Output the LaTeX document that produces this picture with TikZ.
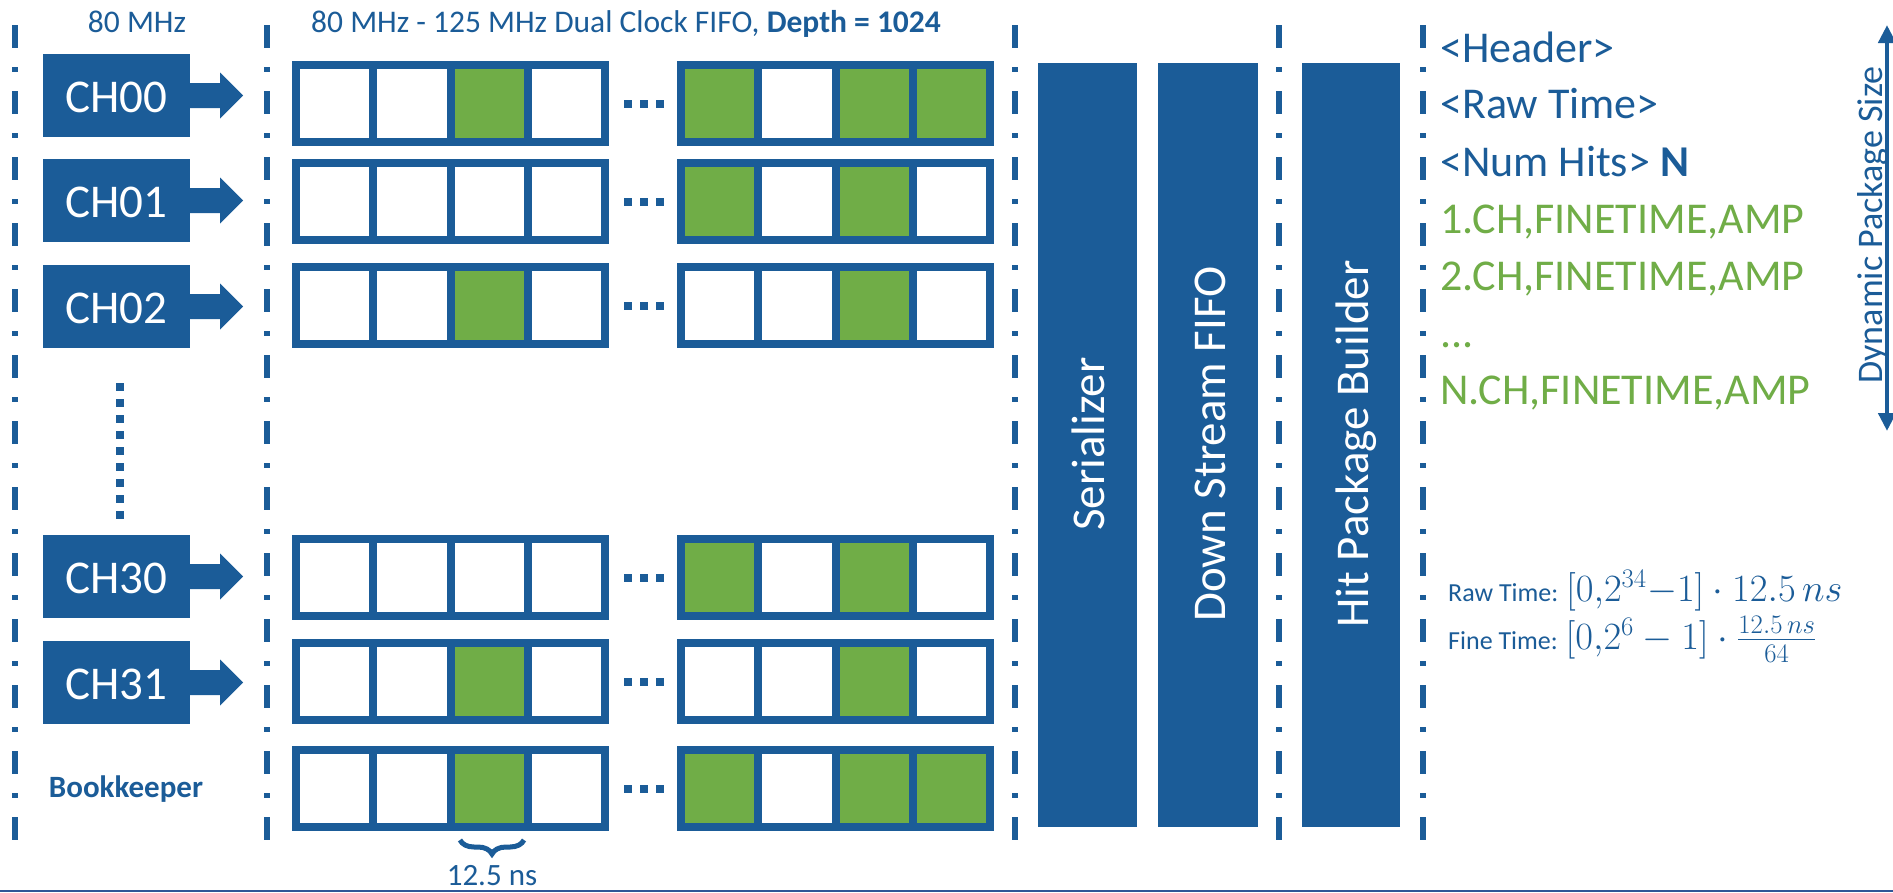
\documentclass[tikz,border=0pt]{standalone}
\usepackage{graphicx}
\usepackage{fontspec}
\setmainfont{Carlito}
\usetikzlibrary{arrows.meta,calc,decorations.pathreplacing}
\definecolor{bl}{RGB}{27,92,152}
\definecolor{gr}{RGB}{112,173,71}
\definecolor{bot}{RGB}{47,85,151}
\begin{document}
\begin{tikzpicture}[x=1pt,y=-1pt,
  sep/.style={draw=bl, line width=6pt, dash pattern=on 23pt off 19pt on 5pt off 19pt},
  chbox/.style={fill=bl, minimum width=147pt, minimum height=83pt, inner sep=0pt, text=white,
    font=\fontsize{47}{56}\selectfont, text height=33pt, text depth=0pt},
  vbox/.style={fill=bl, minimum height=764pt, inner sep=0pt},
  vlabel/.style={rotate=90, anchor=base, text=white, inner sep=0pt, font=\fontsize{47}{56}\selectfont},
  cellline/.style={draw=bl, line width=8pt},
  hdr/.style={text=bl, inner sep=0pt, font=\fontsize{31.5}{38}\selectfont},
  listb/.style={text=bl, inner sep=0pt, anchor=base west, font=\fontsize{44}{52}\selectfont},
  listg/.style={listb, text=gr},
  small/.style={text=bl, inner sep=0pt, anchor=base west, font=\fontsize{26}{31}\selectfont},
]
\useasboundingbox (0,0) rectangle (1893,892);
\fill[white] (0,0) rectangle (1893,892);

% separators
\foreach \x/\n in {15/a,267/b,1015/c,1279/d,1423/e} {
  \coordinate (s\n t) at (\x,25);
  \coordinate (s\n b) at (\x,841);
  \draw[sep] (s\n t) -- (s\n b);
}

% headers
\node[hdr, anchor=base] (h1) at (137,32) {80 MHz};
\node[hdr, anchor=base west] (h2) at (311,32) {80 MHz - 125 MHz Dual Clock FIFO, \textbf{Depth = 1024}};

% channel boxes and arrows
\foreach \n/\c [count=\i] in {CH00/95.5,CH01/200.5,CH02/306.5,CH30/576.5,CH31/682.5} {
  \node[chbox] (ch\i) at (116.5,\c) {\n};
  \fill[bl] ($(ch\i.east)+(0,-12.5)$) -- ++(30,0) -- ++(0,-10.5) -- ($(ch\i.east)+(53,0)$)
     -- ($(ch\i.east)+(30,23)$) -- ++(0,-10.5) -- ($(ch\i.east)+(0,12.5)$) -- cycle;
}
% vertical dots
\coordinate (vd1) at (120,383);
\coordinate (vd2) at (120,519);
\draw[bl, line width=8pt, dash pattern=on 8pt off 8pt] (vd1) -- (vd2);

\node[anchor=base, inner sep=0pt, text=bl, font=\bfseries\fontsize{31}{37}\selectfont] (bk) at (126,797) {Bookkeeper};

% FIFO green cells
\foreach \t/\gl in {61/{450.5,681,835.5,912.75},159/{681,835.5},263/{450.5,835.5},535/{681,835.5},639/{450.5,835.5},746/{450.5,681,835.5,912.75}} {
  \foreach \x in \gl { \fill[gr] (\x,\t+4) rectangle ++(77.25,77); }
}
% FIFO grids
\foreach \t in {61,159,263,535,639,746} {
  \foreach \g in {292,677} {
    \draw[cellline] (\g+4,\t+4) rectangle (\g+313,\t+81);
    \foreach \k in {1,2,3} { \draw[cellline] (\g+4+\k*77.25,\t+4) -- (\g+4+\k*77.25,\t+81); }
  }
  \foreach \d in {628,644,660} { \fill[bl] (\d-4,\t+38.5) rectangle (\d+4,\t+46.5); }
}

% brace
\coordinate (br1) at (524,840);
\coordinate (br2) at (460,840);
\draw[bl, line width=5pt, decorate, decoration={brace, amplitude=14pt}] (br1) -- (br2);
\node[anchor=base, inner sep=0pt, text=bl, font=\fontsize{31}{37}\selectfont] (ns) at (492,885) {12.5 ns};

% big boxes
\node[vbox, minimum width=99pt] (ser) at (1087.5,445) {};
\node[vbox, minimum width=100pt] (dsf) at (1208,445) {};
\node[vbox, minimum width=98pt] (hpb) at (1351,445) {};
\node[vlabel] (serl) at (1104.5,444) {Serializer};
\node[vlabel] (dsfl) at (1225,444) {Down Stream FIFO};
\node[vlabel] (hpbl) at (1368,444) {Hit Package Builder};

% package list
\node[listb] (l1) at (1440,62) {<Header>};
\node[listb] (l2) at (1440,118) {<Raw Time>};
\node[listb] (l3) at (1440,176) {<Num Hits> \textbf{N}};
\node[listg] (l4) at (1440,233) {1.CH,FINETIME,AMP};
\node[listg] (l5) at (1440,290) {2.CH,FINETIME,AMP};
\node[listg] (l6) at (1440,347) {...};
\node[listg] (l7) at (1440,404) {N.CH,FINETIME,AMP};

% dynamic size arrow
\coordinate (da1) at (1887,25);
\coordinate (da2) at (1887,431);
\draw[bl, line width=4.5pt, {Triangle[length=18pt,width=17pt]}-{Triangle[length=18pt,width=17pt]}] (da1) -- (da2);
\node[rotate=90, anchor=base, inner sep=0pt, text=bl, font=\fontsize{36}{43}\selectfont] (dps) at (1882,225) {Dynamic Package Size};

% formulas
\node[small] (raw) at (1448,601) {Raw Time: \scalebox{1.55}{$[0{,}2^{34}{-}1]\cdot 12.5\,ns$}};
\node[small] (fine) at (1448,649) {Fine Time: \scalebox{1.55}{$[0{,}2^{6}-1]\cdot\frac{12.5\,ns}{64}$}};

% bottom rule
\coordinate (bl1) at (0,891);
\coordinate (bl2) at (1893,891);
\draw[bot, line width=2pt] (bl1) -- (bl2);
\end{tikzpicture}
\end{document}
